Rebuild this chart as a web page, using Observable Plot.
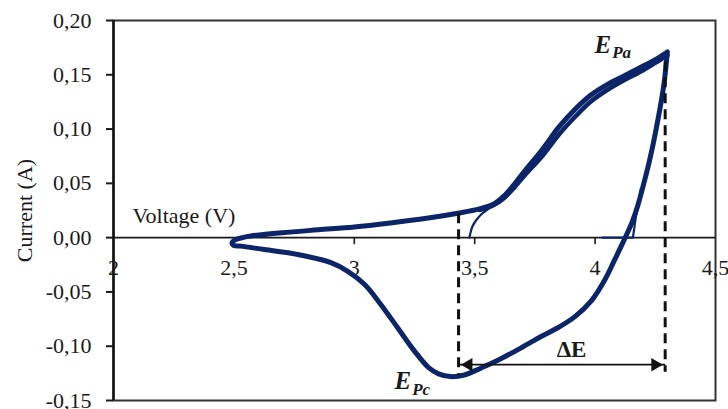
<!DOCTYPE html>
<html><head><meta charset="utf-8">
<script src="https://cdn.jsdelivr.net/npm/d3@7"></script>
<script src="https://cdn.jsdelivr.net/npm/@observablehq/plot@0.6"></script>
<style>
html,body{margin:0;padding:0;background:#fff;}
#chart svg{display:block;font-family:'Liberation Serif','Times New Roman',serif !important;}
#chart svg text{font-family:'Liberation Serif','Times New Roman',serif !important;}
</style>
</head><body><div id="chart"></div>
<script>
// Main CV loop: cathodic sweep 4.3 V -> 2.5 V, then anodic sweep back to 4.3 V
const loopV = [4.300, 4.285, 4.250, 4.225, 4.200, 4.178, 4.155, 4.125, 4.080, 4.040, 3.985, 3.915, 3.845, 3.776, 3.693, 3.596, 3.527, 3.457, 3.400, 3.350, 3.310, 3.250, 3.180, 3.110, 3.042, 2.973, 2.903, 2.765, 2.626, 2.529, 2.500, 2.492,
               2.505, 2.540, 2.570, 2.70, 2.85, 3.00, 3.15, 3.30, 3.43, 3.52, 3.58, 3.62, 3.66, 3.71, 3.78, 3.85, 3.92, 3.98, 4.05, 4.12, 4.19, 4.25, 4.300];
const loopI = [0.171, 0.140, 0.096, 0.070, 0.048, 0.030, 0.015, 0.000, -0.021, -0.039, -0.058, -0.073, -0.083, -0.091, -0.1015, -0.113, -0.120, -0.1265, -0.128, -0.1255, -0.120, -0.1045, -0.083, -0.0615, -0.043, -0.031, -0.023, -0.0155, -0.011, -0.0078, -0.0072, -0.005,
               -0.002, 0.0003, 0.0015, 0.0045, 0.0072, 0.0098, 0.0135, 0.0178, 0.0225, 0.0265, 0.031, 0.038, 0.048, 0.062, 0.081, 0.102, 0.119, 0.131, 0.141, 0.149, 0.157, 0.164, 0.171];
// Second cycle, anodic part (slightly lower current)
const cycle2V = [3.52, 3.58, 3.62, 3.66, 3.71, 3.78, 3.85, 3.92, 3.98, 4.05, 4.12, 4.19, 4.25, 4.300];
const cycle2I = [0.0255, 0.030, 0.036, 0.045, 0.058, 0.075, 0.095, 0.112, 0.125, 0.136, 0.145, 0.153, 0.161, 0.168];
// Initial scan from open-circuit voltage
const startV = [3.478, 3.481, 3.490, 3.506, 3.530, 3.555, 3.596];
const startI = [0.000, 0.003, 0.010, 0.016, 0.022, 0.026, 0.0335];
// Final thin trace
const endV = [4.030, 4.157, 4.170, 4.190];
const endI = [0.000, 0.000, 0.020, 0.045];

const xTicks = [2, 2.5, 3, 3.5, 4, 4.5];
const xTickLabels = ["2", "2,5", "3", "3,5", "4", "4,5"];
const yTicks = [-0.15, -0.10, -0.05, 0, 0.05, 0.10, 0.15, 0.20];
const yTickLabels = ["-0,15", "-0,10", "-0,05", "0,00", "0,05", "0,10", "0,15", "0,20"];

// Peak markers: EPc and EPa
const peakNames = ["Pc", "Pa"];
const peakV = [3.433, 4.291];
const peakTopI = [0.022, 0.162];
const peakBottomI = [-0.127, -0.124];
const arrowI = -0.117;
const labelV = [3.236, 4.067];     // junction of "E" and its subscript
const labelEI = [-0.1398, 0.170];
const labelSubI = [-0.1448, 0.1652];

const curveColor = "#0c2468";
const toRows = (V, I) => V.map((v, k) => ({v, i: I[k]}));
const loop = toRows(loopV, loopI);
const cycle2 = toRows(cycle2V, cycle2I);
const start = toRows(startV, startI);
const end = toRows(endV, endI);
const peaks = peakV.map((v, k) => ({v, top: peakTopI[k], bottom: peakBottomI[k], name: peakNames[k],
  lv: labelV[k], ei: labelEI[k], si: labelSubI[k]}));

const serif = "'Liberation Serif', 'Times New Roman', serif";

const chart = Plot.plot({
  width: 728,
  height: 409,
  marginLeft: 113,
  marginRight: 13,
  marginTop: 20,
  marginBottom: 9,
  style: {fontFamily: serif, fontSize: "22px", color: "#1a1a1a", background: "#fff", overflow: "visible"},
  x: {domain: [2, 4.5], axis: null},
  y: {domain: [-0.15, 0.20], axis: null},
  marks: [
    Plot.frame({stroke: "#333", strokeWidth: 2}),
    Plot.ruleY([0], {stroke: "#1a1a1a", strokeWidth: 1.6}),
    Plot.ruleX([2], {stroke: "#111", strokeWidth: 2.5}),
    Plot.axisY({ticks: yTicks, tickFormat: d => yTickLabels[yTicks.findIndex(t => Math.abs(t - d) < 1e-9)],
      tickSize: 7, tickPadding: 15, strokeWidth: 2, fontSize: 22, fontFamily: serif, label: null}),
    Plot.ruleX(xTicks.slice(1, -1), {x: d => d, y1: 0, y2: -0.0065, stroke: "#1a1a1a", strokeWidth: 1.6}),
    Plot.text(xTicks, {x: d => d, y: 0, text: (d, k) => xTickLabels[k], dy: 37, lineAnchor: "bottom", fontSize: 22, fontFamily: serif}),
    Plot.text(["Current (A)"], {frameAnchor: "left", textAnchor: "middle", rotate: -90, dx: -89, fontSize: 22, fontFamily: serif}),
    Plot.text(["Voltage (V)"], {x: 2.079, y: 0.0134, textAnchor: "start", lineAnchor: "bottom", fontSize: 22, fontFamily: serif}),
    // curves
    Plot.line(cycle2, {x: "v", y: "i", stroke: curveColor, strokeWidth: 4.5, curve: "catmull-rom", strokeLinejoin: "round"}),
    Plot.line(loop, {x: "v", y: "i", stroke: curveColor, strokeWidth: 5, curve: "catmull-rom", strokeLinejoin: "round"}),
    Plot.line(start, {x: "v", y: "i", stroke: curveColor, strokeWidth: 2.2, curve: "catmull-rom"}),
    Plot.line(end, {x: "v", y: "i", stroke: curveColor, strokeWidth: 2.2, curve: "linear"}),
    // peak dashed lines
    Plot.ruleX(peaks, {x: "v", y1: "top", y2: "bottom", stroke: "#111", strokeWidth: 3, strokeDasharray: "10,6"}),
    // ΔE arrow
    Plot.link([{x1: peakV[0], x2: peakV[1], y: arrowI}], {x1: "x1", x2: "x2", y1: "y", y2: "y", stroke: "#111", strokeWidth: 1.6}),
    Plot.dot([{x: peakV[0], y: arrowI}], {x: "x", y: "y", symbol: "triangle", r: 5, rotate: -90, fill: "#111", stroke: "none", dx: 10}),
    Plot.dot([{x: peakV[1], y: arrowI}], {x: "x", y: "y", symbol: "triangle", r: 5, rotate: 90, fill: "#111", stroke: "none", dx: -10}),
    Plot.text(["ΔE"], {x: 3.902, y: -0.1102, lineAnchor: "bottom", fontWeight: "bold", fontSize: 23, fontFamily: serif}),
    // E_Pa, E_Pc labels
    Plot.text(peaks, {x: "lv", y: "ei", text: () => "E", textAnchor: "end", lineAnchor: "bottom", fontWeight: "bold", fontStyle: "italic", fontSize: 25, fontFamily: serif}),
    Plot.text(peaks, {x: "lv", y: "si", text: "name", textAnchor: "start", lineAnchor: "bottom", fontWeight: "bold", fontStyle: "italic", fontSize: 17, fontFamily: serif, dx: 1})
  ]
});
document.getElementById("chart").append(chart);
</script>
</body></html>
